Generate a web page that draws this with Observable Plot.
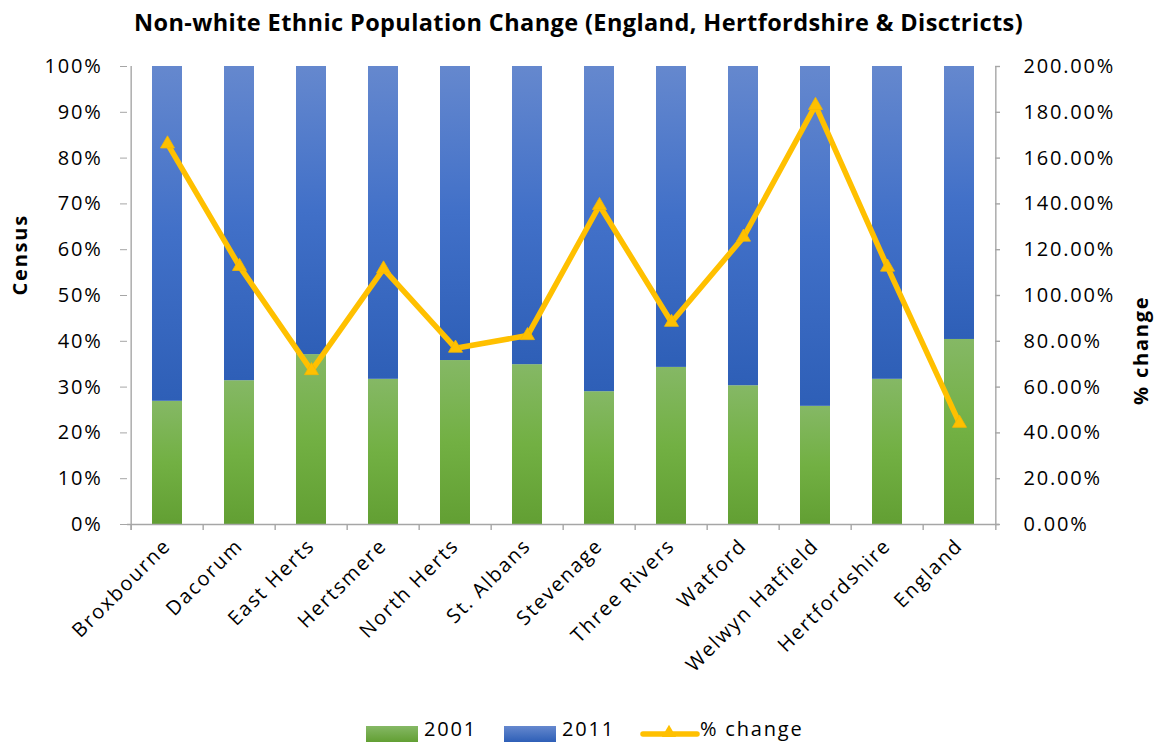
<!DOCTYPE html>
<html>
<head>
<meta charset="utf-8">
<script src="https://cdn.jsdelivr.net/npm/d3@7"></script>
<script src="https://cdn.jsdelivr.net/npm/@observablehq/plot@0.6"></script>
<style>
  html, body { margin: 0; padding: 0; background: #fff; }
  body { font-family: "Open Sans", sans-serif; color: #000; width: 1157px; height: 745px; overflow: hidden; position: relative; }
  #title { position: absolute; top: 0; left: 0; width: 1157px; height: 44px; line-height: 44px; text-align: center; font-weight: bold; font-size: 23.5px; letter-spacing: 0.4px; }
  #chart { position: absolute; top: 44px; left: 0; }
  #legend { position: absolute; top: 718px; left: 0; width: 1157px; height: 27px; font-size: 20px; letter-spacing: 1.8px; }
  .item { position: absolute; top: 0; height: 27px; }
  .sw { position: absolute; top: 8px; width: 52px; height: 16px; }
  .lbl { position: absolute; top: -3px; white-space: nowrap; }
</style>
</head>
<body>
<div id="title">Non-white Ethnic Population Change (England, Hertfordshire &amp; Disctricts)</div>
<div id="chart"></div>
<div id="legend"></div>
<script>
// ---- data ----
const categories = ["Broxbourne", "Dacorum", "East Herts", "Hertsmere", "North Herts", "St. Albans",
  "Stevenage", "Three Rivers", "Watford", "Welwyn Hatfield", "Hertfordshire", "England"];
const share2001 = [0.269, 0.314, 0.371, 0.317, 0.358, 0.349, 0.290, 0.343, 0.303, 0.258, 0.317, 0.404];
const share2011 = [0.731, 0.686, 0.629, 0.683, 0.642, 0.651, 0.710, 0.657, 0.697, 0.742, 0.683, 0.596];
const pctChange = [1.662, 1.127, 0.672, 1.116, 0.770, 0.825, 1.393, 0.883, 1.255, 1.830, 1.124, 0.442];
const leftTicks = [0, 0.1, 0.2, 0.3, 0.4, 0.5, 0.6, 0.7, 0.8, 0.9, 1.0];
const rightTicks = [0, 0.2, 0.4, 0.6, 0.8, 1.0, 1.2, 1.4, 1.6, 1.8, 2.0];
const seriesNames = ["2001", "2011", "% change"];

const rows = categories.map((c, i) => ({cat: c, s01: share2001[i], s11: share2011[i], chg: pctChange[i]}));
const rightMax = 2.0; // right axis spans 0–200%, left spans 0–100%

const W = 1157, H = 660;
const mL = 127, mR = 158, mT = 22, mB = 180;
const step = (W - mL - mR) / categories.length;
const grey = "#a6a6a6";
const lineColor = "#ffc000";

function gradients() {
  const defs = d3.create("svg:defs");
  const g1 = defs.append("linearGradient").attr("id", "g2001").attr("x1", 0).attr("y1", 0).attr("x2", 0).attr("y2", 1);
  g1.append("stop").attr("offset", "0%").attr("stop-color", "#85b865");
  g1.append("stop").attr("offset", "50%").attr("stop-color", "#72b043");
  g1.append("stop").attr("offset", "100%").attr("stop-color", "#629f33");
  const g2 = defs.append("linearGradient").attr("id", "g2011").attr("x1", 0).attr("y1", 0).attr("x2", 0).attr("y2", 1);
  g2.append("stop").attr("offset", "0%").attr("stop-color", "#6588ce");
  g2.append("stop").attr("offset", "50%").attr("stop-color", "#4170c8");
  g2.append("stop").attr("offset", "100%").attr("stop-color", "#2e5fb7");
  return defs.node();
}

const chart = Plot.plot({
  width: W,
  height: H,
  marginLeft: mL,
  marginRight: mR,
  marginTop: mT,
  marginBottom: mB,
  style: {fontFamily: "'Open Sans', sans-serif", fontSize: "20px", letterSpacing: "1.8px", color: "#000", background: "#fff"},
  x: {type: "band", domain: categories, paddingInner: 0.587, paddingOuter: 0.2935},
  y: {domain: [0, 1]},
  marks: [
    gradients,
    Plot.barY(rows, {x: "cat", y1: 0, y2: "s01", fill: "url(#g2001)"}),
    Plot.barY(rows, {x: "cat", y1: "s01", y2: d => d.s01 + d.s11, fill: "url(#g2011)"}),
    // baseline and axis lines / category boundary ticks
    Plot.ruleY([0], {stroke: grey, strokeWidth: 1.4}),
    Plot.ruleX(categories, {x: d => d, dx: -step / 2, y1: -0.013, y2: 0, stroke: grey, strokeWidth: 1.4}),
    Plot.ruleX([categories[0]], {x: d => d, dx: -step / 2, y1: -0.013, y2: 1, stroke: grey, strokeWidth: 1.4}),
    Plot.ruleX([categories[categories.length - 1]], {x: d => d, dx: step / 2, y1: -0.013, y2: 1, stroke: grey, strokeWidth: 1.4}),
    Plot.axisY(leftTicks, {anchor: "left", tickSize: 7, tickPadding: 18, stroke: grey, fill: "#000", fontSize: 20,
      tickFormat: d => Math.round(d * 100) + "%", label: null}),
    Plot.axisY(rightTicks.map(t => t / rightMax), {anchor: "right", tickSize: 0, tickPadding: 24, fill: "#000", fontSize: 20,
      tickFormat: d => (d * rightMax * 100).toFixed(2) + "%", label: null}),
    Plot.axisY(rightTicks.map(t => t / rightMax), {anchor: "right", tickSize: 5, dx: -5, text: null, label: null, stroke: grey, strokeWidth: 1.4}),
    Plot.axisX({tickSize: 0, tickPadding: 18, tickRotate: -45, fontSize: 20, fill: "#000", label: null}),
    Plot.text(["Census"], {frameAnchor: "left", dx: -107, rotate: -90, fontWeight: "bold", fontSize: 20}),
    Plot.text(["% change"], {frameAnchor: "right", dx: 142, rotate: -90, fontWeight: "bold", fontSize: 20}),
    // % change line on the right-hand scale
    Plot.line(rows, {x: "cat", y: d => d.chg / rightMax, stroke: lineColor, strokeWidth: 5.5, strokeLinejoin: "miter"}),
    Plot.dot(rows, {x: "cat", y: d => d.chg / rightMax, symbol: "triangle", r: 5.2, fill: lineColor, stroke: "#f5b800", strokeWidth: 0.8})
  ]
});
document.getElementById("chart").appendChild(chart);

// legend
const legend = document.getElementById("legend");
const items = [
  {name: seriesNames[0], left: 366, sw: "linear-gradient(#85b865, #629f33)"},
  {name: seriesNames[1], left: 504, sw: "linear-gradient(#6588ce, #2e5fb7)"},
];
items.forEach(it => {
  const d = document.createElement("div");
  d.className = "item";
  d.style.left = it.left + "px";
  d.innerHTML = `<div class="sw" style="left:0;background:${it.sw}"></div><div class="lbl" style="left:58px">${it.name}</div>`;
  legend.appendChild(d);
});
const li = document.createElement("div");
li.className = "item";
li.style.left = "640px";
li.innerHTML = `<svg width="60" height="27" style="position:absolute;left:0;top:0">
  <line x1="3" y1="16" x2="57" y2="16" stroke="${lineColor}" stroke-width="5.5" stroke-linecap="round"/>
  <path d="${d3.symbol(d3.symbolTriangle, 88)()}" transform="translate(29,15)" fill="${lineColor}"/>
</svg><div class="lbl" style="left:60px">${seriesNames[2]}</div>`;
legend.appendChild(li);
</script>
</body>
</html>
